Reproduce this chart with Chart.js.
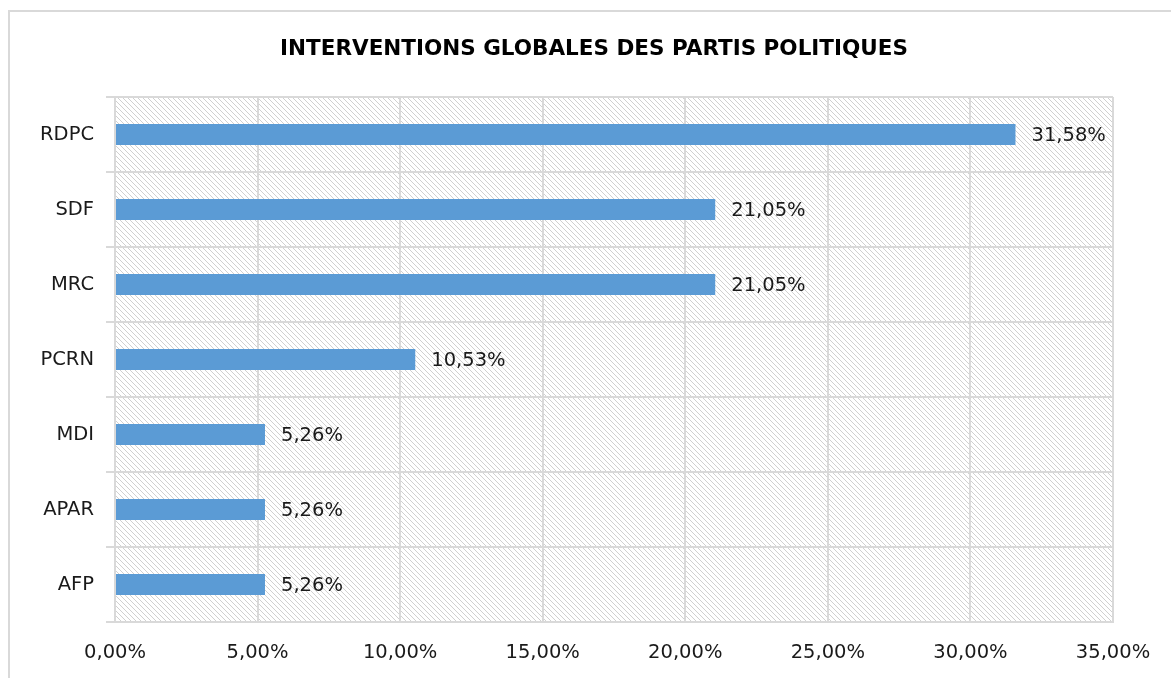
<!DOCTYPE html>
<html>
<head>
    <title>Interventions globales des partis politiques</title>
    <script src="https://cdn.jsdelivr.net/npm/chart.js"></script>
    <style>
        body { margin: 0; background: #fff; }
        #wrap { width: 1171px; height: 678px; }
    </style>
</head>
<body>
    <div id="wrap"><canvas id="partis"></canvas></div>
    <script>
    const partis = ['RDPC', 'SDF', 'MRC', 'PCRN', 'MDI', 'APAR', 'AFP'];
    const parts = [31.58, 21.05, 21.05, 10.53, 5.26, 5.26, 5.26];
    const axeMax = 35;
    const axePas = 5;
    const titre = 'INTERVENTIONS GLOBALES DES PARTIS POLITIQUES';

    const police = '"DejaVu Sans", sans-serif';
    const pct = v => v.toFixed(2).replace('.', ',') + '%';

    // motif hachuré du fond
    const tuile = document.createElement('canvas');
    tuile.width = 5; tuile.height = 5;
    const tc = tuile.getContext('2d');
    tc.fillStyle = '#fff';
    tc.fillRect(0, 0, 5, 5);
    tc.fillStyle = '#d0d0d0';
    for (let i = 0; i < 5; i++) tc.fillRect(i, i, 1, 1);

    const fond = {
        id: 'fond',
        beforeDraw(chart) {
            const { ctx, chartArea: a } = chart;
            ctx.save();
            ctx.strokeStyle = '#d9d9d9';
            ctx.lineWidth = 2;
            ctx.beginPath();
            ctx.moveTo(9, 700);
            ctx.lineTo(9, 11);
            ctx.lineTo(1200, 11);
            ctx.stroke();
            ctx.fillStyle = ctx.createPattern(tuile, 'repeat');
            ctx.fillRect(a.left, a.top, a.right - a.left, a.bottom - a.top);
            ctx.fillStyle = '#000';
            ctx.font = 'bold 21.5px ' + police;
            ctx.textAlign = 'center';
            ctx.textBaseline = 'middle';
            ctx.fillText(titre, 594, 49);
            ctx.restore();
        }
    };

    const etiquettes = {
        id: 'etiquettes',
        afterDatasetsDraw(chart) {
            const { ctx } = chart;
            const meta = chart.getDatasetMeta(0);
            ctx.save();
            ctx.fillStyle = '#1a1a1a';
            ctx.font = '19.5px ' + police;
            ctx.textAlign = 'left';
            ctx.textBaseline = 'middle';
            meta.data.forEach((bar, i) => {
                ctx.fillText(pct(parts[i]), bar.x + 16, bar.y + 1);
            });
            ctx.restore();
        }
    };

    new Chart(document.getElementById('partis'), {
        type: 'bar',
        data: {
            labels: partis,
            datasets: [{
                data: parts,
                backgroundColor: '#5b9bd5',
                barPercentage: 0.28,
                categoryPercentage: 1
            }]
        },
        options: {
            indexAxis: 'y',
            responsive: true,
            maintainAspectRatio: false,
            animation: false,
            layout: { padding: { top: 97, left: 8, right: 58, bottom: 0 } },
            plugins: {
                legend: { display: false },
                tooltip: { enabled: false }
            },
            scales: {
                x: {
                    min: 0,
                    max: axeMax,
                    ticks: {
                        stepSize: axePas,
                        color: '#1a1a1a',
                        font: { family: police, size: 19.5 },
                        padding: 19,
                        callback: v => pct(v)
                    },
                    grid: { color: '#d9d9d9', lineWidth: 2, drawTicks: false },
                    border: { color: '#d9d9d9', width: 2 },
                    afterFit(s) { s.height = 56; }
                },
                y: {
                    ticks: {
                        color: '#1a1a1a',
                        font: { family: police, size: 19.5 },
                        padding: 12
                    },
                    grid: { color: '#d9d9d9', lineWidth: 2, tickLength: 9 },
                    border: { color: '#d9d9d9', width: 2 },
                    afterFit(s) { s.width = 107; }
                }
            }
        },
        plugins: [fond, etiquettes]
    });
    </script>
</body>
</html>
